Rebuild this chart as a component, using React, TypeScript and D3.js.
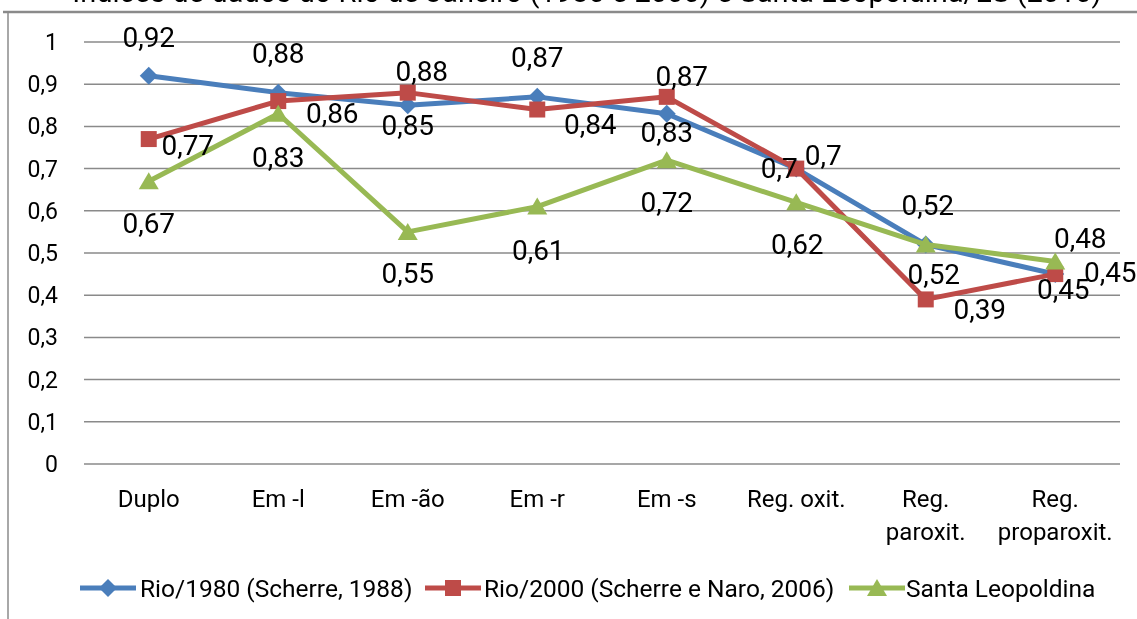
import * as d3 from 'd3'

const categories = ['Duplo', 'Em -l', 'Em -ão', 'Em -r', 'Em -s', 'Reg. oxit.', 'Reg.\nparoxit.', 'Reg.\nproparoxit.']
const rio1980 = [0.92, 0.88, 0.85, 0.87, 0.83, 0.7, 0.52, 0.45]
const rio2000 = [0.77, 0.86, 0.88, 0.84, 0.87, 0.7, 0.39, 0.45]
const santaLeopoldina = [0.67, 0.83, 0.55, 0.61, 0.72, 0.62, 0.52, 0.48]
const yTicks = [0, 0.1, 0.2, 0.3, 0.4, 0.5, 0.6, 0.7, 0.8, 0.9, 1]

// label nudges [dx, dy] relative to each point, as placed in the original
const rio1980Nudge = [[0, -39], [0, -39], [0, 20], [0, -40], [0, 18], [-17, 0], [2, -39], [8, 15]]
const rio2000Nudge = [[39, 6], [54, 12], [14, -21], [53, 15], [15, -21], [27, -13], [54, 10], [55, -2]]
const santaNudge = [[0, 42], [0, 43], [0, 41], [1, 44], [0, 42], [1, 42], [8, 30], [25, -23]]

const W = 1137
const H = 619
const FONT = 'Roboto, "Noto Sans", sans-serif'

const series = [
  { name: 'Rio/1980 (Scherre, 1988)', values: rio1980, nudge: rio1980Nudge, color: '#4A7EBB', marker: 'diamond' },
  { name: 'Rio/2000 (Scherre e Naro, 2006)', values: rio2000, nudge: rio2000Nudge, color: '#BE4B48', marker: 'square' },
  { name: 'Santa Leopoldina', values: santaLeopoldina, nudge: santaNudge, color: '#98B954', marker: 'triangle' },
]

const plot = { left: 84, right: 1120, top: 42, bottom: 464 }

const fmt = (v: number) => String(v).replace('.', ',')

function markerPath(kind: string, cx: number, cy: number) {
  if (kind === 'diamond') {
    const r = 9
    return `M${cx},${cy - r}L${cx + r},${cy}L${cx},${cy + r}L${cx - r},${cy}Z`
  }
  if (kind === 'square') {
    const r = 8
    return `M${cx - r},${cy - r}h${2 * r}v${2 * r}h${-2 * r}Z`
  }
  const hw = 10
  return `M${cx},${cy - 9}L${cx + hw},${cy + 8}L${cx - hw},${cy + 8}Z`
}

export default function App() {
  const x = d3.scaleBand<string>().domain(categories).range([plot.left, plot.right])
  const y = d3.scaleLinear().domain([0, 1]).range([plot.bottom, plot.top])
  const cx = (c: string) => (x(c) ?? 0) + x.bandwidth() / 2

  const line = d3.line<number>()
    .x((_, i) => cx(categories[i]))
    .y(d => y(d))

  const legendItems = [
    { lineX: 80, textX: 140 },
    { lineX: 425, textX: 484 },
    { lineX: 849, textX: 906 },
  ]

  return (
    <div style={{ position: 'fixed', left: 0, top: 0 }}>
      <svg width={W} height={H} style={{ display: 'block', fontFamily: FONT }}>
        <rect x={0} y={0} width={W} height={H} fill="#fff" />
        {/* title, cut off at the top */}
        <text x={587} y={2} textAnchor="middle" fontSize={29} fill="#000">
          Índices de dados do Rio de Janeiro (1980 e 2000) e Santa Leopoldina/ES (2010)
        </text>
        <rect x={8} y={12} width={W} height={H} fill="#fff" stroke="#8c8c8c" strokeWidth={1.5} />
        <line x1={3} x2={W} y1={12} y2={12} stroke="#8a8a8a" strokeWidth={2.5} />

        {yTicks.map(t => (
          <g key={t}>
            <line x1={plot.left} x2={plot.right} y1={y(t)} y2={y(t)} stroke="#8a8a8a" strokeWidth={1.5} />
            <text x={58} y={y(t)} dy="0.35em" textAnchor="end" fontSize={23} fill="#000">{fmt(t)}</text>
          </g>
        ))}

        {categories.map(c => (
          <text key={c} x={cx(c)} y={507} textAnchor="middle" fontSize={24} fill="#000">
            {c.split('\n').map((part, i) => (
              <tspan key={i} x={cx(c)} dy={i === 0 ? 0 : 33}>{part}</tspan>
            ))}
          </text>
        ))}

        {series.map(s => (
          <g key={s.name}>
            <path d={line(s.values) ?? ''} fill="none" stroke={s.color} strokeWidth={5} strokeLinejoin="round" />
            {s.values.map((v, i) => (
              <path key={i} d={markerPath(s.marker, cx(categories[i]), y(v))} fill={s.color} />
            ))}
          </g>
        ))}

        {series.map(s => (
          <g key={s.name + '-labels'}>
            {s.values.map((v, i) => (
              <text key={i} x={cx(categories[i]) + s.nudge[i][0]} y={y(v) + s.nudge[i][1]} dy="0.35em"
                textAnchor="middle" fontSize={28} fill="#000">{fmt(v)}</text>
            ))}
          </g>
        ))}

        {series.map((s, i) => {
          const li = legendItems[i]
          return (
            <g key={s.name + '-legend'}>
              <line x1={li.lineX} x2={li.lineX + 56} y1={588} y2={588} stroke={s.color} strokeWidth={5} />
              <path d={markerPath(s.marker, li.lineX + 28, 588)} fill={s.color} />
              <text x={li.textX} y={588} dy="0.35em" fontSize={24.5} fill="#000">{s.name}</text>
            </g>
          )
        })}
      </svg>
    </div>
  )
}
